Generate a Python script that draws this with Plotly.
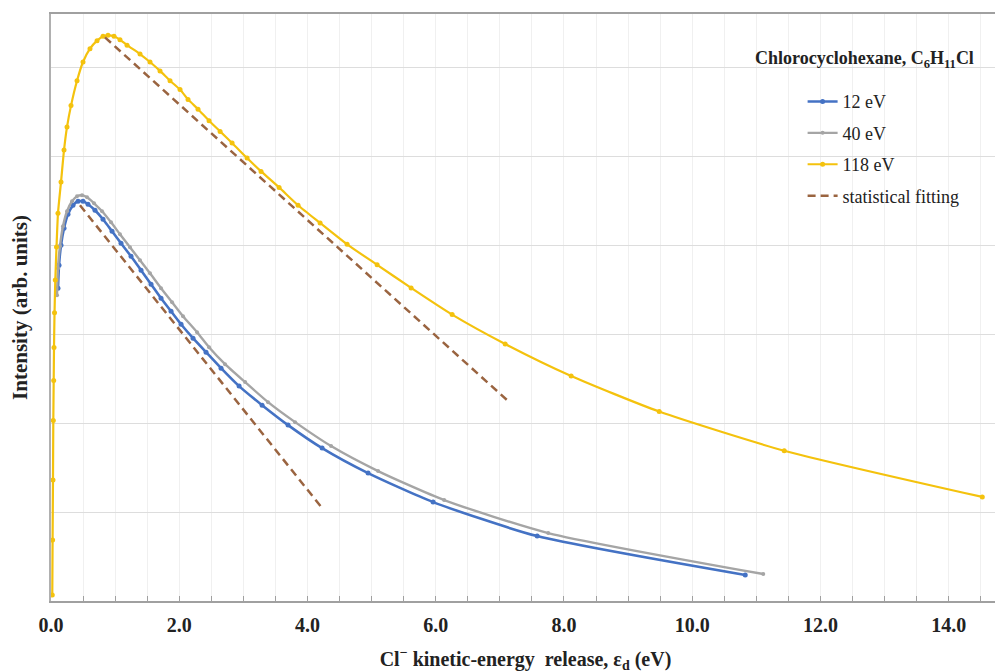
import numpy as np
import plotly.graph_objects as go

# ---- data (energies in eV, intensities given as log10 of arb. units) ----
e_12 = [0.109, 0.125, 0.156, 0.203, 0.265, 0.343, 0.421, 0.499, 0.577, 0.686,
        0.811, 0.952, 1.092, 1.248, 1.404, 1.560, 1.716, 1.872, 2.028, 2.215,
        2.418, 2.652, 2.933, 3.292, 3.697, 4.228, 4.945, 5.959, 7.582, 10.827]
logi_12 = [3.517, 3.775, 4.000, 4.191, 4.348, 4.449, 4.494, 4.494, 4.461, 4.393,
           4.292, 4.157, 4.022, 3.876, 3.719, 3.562, 3.404, 3.258, 3.112, 2.955,
           2.798, 2.618, 2.416, 2.202, 1.978, 1.719, 1.438, 1.112, 0.730, 0.292]

e_40 = [0.094, 0.109, 0.140, 0.187, 0.250, 0.328, 0.406, 0.484, 0.562, 0.671,
        0.796, 0.936, 1.076, 1.232, 1.388, 1.544, 1.716, 1.888, 2.059, 2.278,
        2.465, 2.714, 3.027, 3.385, 3.807, 4.368, 5.101, 6.131, 7.754, 11.108]
logi_40 = [3.438, 3.742, 3.989, 4.213, 4.382, 4.494, 4.551, 4.562, 4.539, 4.472,
           4.382, 4.258, 4.124, 3.978, 3.831, 3.685, 3.517, 3.360, 3.202, 3.022,
           2.854, 2.663, 2.461, 2.236, 2.011, 1.742, 1.461, 1.135, 0.764, 0.303]

e_118 = [0.020, 0.025, 0.031, 0.036, 0.042, 0.047, 0.055, 0.067, 0.086, 0.109,
         0.156, 0.203, 0.250, 0.312, 0.406, 0.499, 0.608, 0.718, 0.811, 0.889,
         0.983, 1.076, 1.186, 1.388, 1.544, 1.700, 1.856, 2.012, 2.137, 2.293,
         2.465, 2.637, 2.824, 3.058, 3.276, 3.557, 3.853, 4.197, 4.618, 5.086,
         5.616, 6.256, 7.083, 8.112, 9.485, 11.435, 14.524]
logi_118 = [0.067, 0.685, 1.360, 2.030, 2.480, 2.850, 3.240, 3.610, 3.980, 4.360,
            4.710, 5.070, 5.330, 5.570, 5.850, 6.060, 6.210, 6.300, 6.350, 6.360,
            6.350, 6.310, 6.250, 6.150, 6.060, 5.960, 5.850, 5.750, 5.640, 5.530,
            5.400, 5.280, 5.150, 4.980, 4.830, 4.650, 4.450, 4.250, 4.010, 3.780,
            3.520, 3.220, 2.890, 2.530, 2.130, 1.690, 1.170]

fit_low_e = [0.452, 4.228]
fit_low_logi = [4.449, 1.045]
fit_high_e = [0.842, 7.114]
fit_high_logi = [6.337, 2.258]

x_ticks = [0, 2, 4, 6, 8, 10, 12, 14]
x_ticktext = ["0.0", "2.0", "4.0", "6.0", "8.0", "10.0", "12.0", "14.0"]

FONT = "Times New Roman, Liberation Serif, serif"
BLUE = "#4472C4"
GRAY = "#A5A5A5"
GOLD = "#F4C20D"
BROWN = "#9A6440"

fig = go.Figure()

fig.add_trace(go.Scatter(
    x=e_12, y=np.power(10.0, logi_12), name="12 eV", mode="lines+markers",
    line=dict(color=BLUE, width=2.6, shape="spline", smoothing=0.6),
    marker=dict(color=BLUE, size=5), legendgroup="a"))
fig.add_trace(go.Scatter(
    x=e_40, y=np.power(10.0, logi_40), name="40 eV", mode="lines+markers",
    line=dict(color=GRAY, width=2.4, shape="spline", smoothing=0.6),
    marker=dict(color=GRAY, size=4), legendgroup="b"))
fig.add_trace(go.Scatter(
    x=e_118, y=np.power(10.0, logi_118), name="118 eV", mode="lines+markers",
    line=dict(color=GOLD, width=2.2, shape="spline", smoothing=0.6),
    marker=dict(color=GOLD, size=5), legendgroup="c"))
fig.add_trace(go.Scatter(
    x=fit_low_e, y=np.power(10.0, fit_low_logi), name="statistical fitting",
    mode="lines", line=dict(color=BROWN, width=2.5, dash="8px,5px"),
    legendgroup="d"))
fig.add_trace(go.Scatter(
    x=fit_high_e, y=np.power(10.0, fit_high_logi), name="statistical fitting",
    mode="lines", line=dict(color=BROWN, width=2.5, dash="8px,5px"),
    legendgroup="d", showlegend=False))

fig.update_layout(
    width=1003, height=671,
    margin=dict(l=43, r=11, t=6, b=78),
    paper_bgcolor="white", plot_bgcolor="white",
    font=dict(family=FONT, color="black"),
    showlegend=True,
    legend=dict(x=0.792, y=0.882, xanchor="left", yanchor="top",
                font=dict(family=FONT, size=18, color="#222222"),
                tracegroupgap=5, traceorder="grouped",
                bgcolor="rgba(255,255,255,0)"),
    annotations=[dict(
        text="<b>Chlorocyclohexane, C<sub>6</sub>H<sub>11</sub>Cl</b>",
        xref="paper", yref="paper", x=0.975, y=0.922,
        xanchor="right", yanchor="middle", showarrow=False,
        font=dict(family=FONT, size=18, color="#222222"))],
)

fig.update_xaxes(
    range=[0, 14.8], tickvals=x_ticks, ticktext=x_ticktext,
    tickfont=dict(family=FONT, size=20, weight="bold", color="#222222"),
    ticks="inside", ticklen=5, tickcolor="#A0A0A0", ticklabelstandoff=5,
    showline=True, linecolor="#A0A0A0", linewidth=1.5, mirror=True,
    showgrid=True, gridcolor="#F0F0F0", gridwidth=1,
    minor=dict(dtick=0.5, ticks="inside", ticklen=5, tickcolor="#A0A0A0",
               showgrid=True, gridcolor="#F0F0F0"),
    zeroline=False, automargin=False,
    title=dict(text="<b>Cl<sup>\u2212</sup> kinetic-energy  release, \u03b5<sub>d</sub> (eV)</b>",
               font=dict(family=FONT, size=20, color="#222222"), standoff=17),
)
fig.update_yaxes(
    type="log", range=[0, 6.6], dtick=1, showticklabels=False,
    ticks="", showline=True, linecolor="#B0B0B0", linewidth=1.5,
    showgrid=True, gridcolor="#DDDDDD", gridwidth=1, zeroline=False,
    automargin=False,
    title=dict(text="<b>Intensity (arb. units)</b>",
               font=dict(family=FONT, size=21, color="#222222"), standoff=18),
)

fig.write_html("out.html")
